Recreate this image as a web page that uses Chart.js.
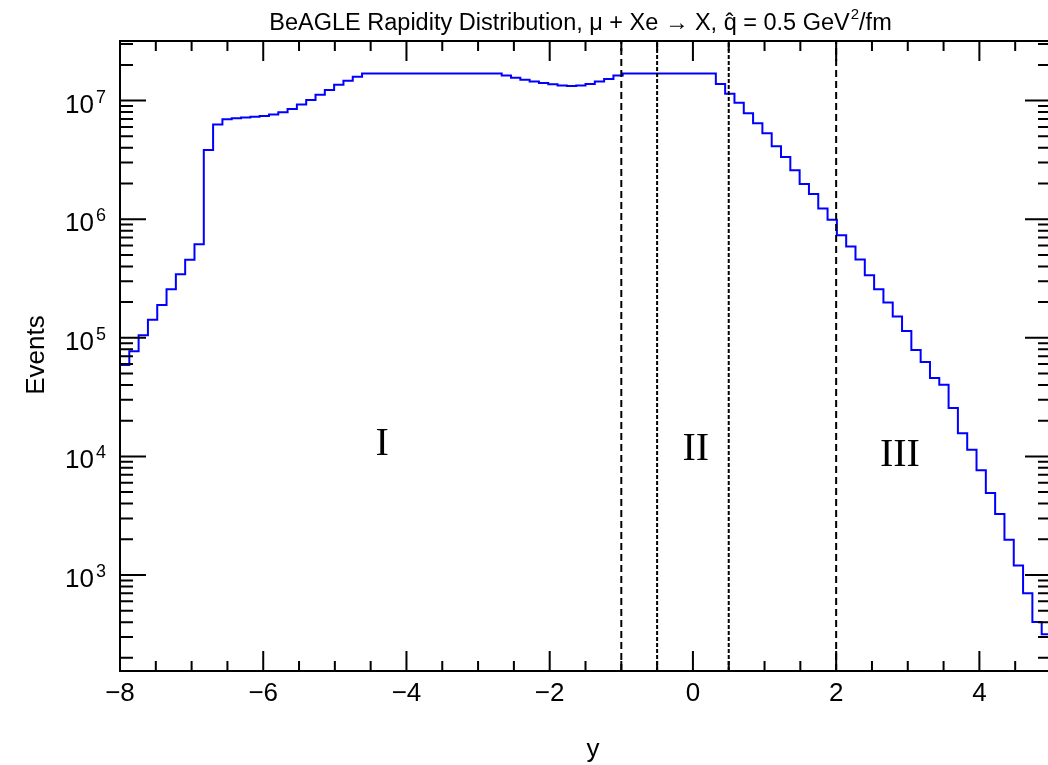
<!DOCTYPE html>
<html>
<head>
<meta charset="utf-8">
<script src="https://cdn.jsdelivr.net/npm/chart.js@4.4.1/dist/chart.umd.min.js"></script>
<style>
    html, body { margin: 0; padding: 0; background: #ffffff; overflow: hidden; }
    #wrap { position: relative; width: 1056px; height: 765px; }
</style>
</head>
<body>
<div id="wrap"><canvas id="rapidity"></canvas></div>
<script>
// === HISTOGRAM BINNING (100 bins from -8 to 5) ===
const BIN_LOW = -8;
const BIN_WIDTH = 0.13;

// === EVENTS PER BIN ===
const binCounts = [
    5.9e4, 7.7e4, 1.05e5, 1.42e5, 1.89e5, 2.57e5, 3.44e5, 4.56e5, 6.15e5, 3.84e6,
    6.3e6, 6.97e6, 7.11e6, 7.19e6, 7.3e6, 7.43e6, 7.62e6, 7.98e6, 8.51e6, 9.25e6,
    1.01e7, 1.12e7, 1.23e7, 1.36e7, 1.47e7, 1.59e7, 1.69e7, 1.69e7, 1.69e7, 1.69e7,
    1.69e7, 1.69e7, 1.69e7, 1.69e7, 1.69e7, 1.69e7, 1.69e7, 1.69e7, 1.69e7, 1.69e7,
    1.69e7, 1.625e7, 1.56e7, 1.50e7, 1.45e7, 1.41e7, 1.37e7, 1.34e7, 1.33e7, 1.34e7,
    1.38e7, 1.45e7, 1.52e7, 1.625e7, 1.69e7, 1.69e7, 1.69e7, 1.69e7, 1.69e7, 1.69e7,
    1.69e7, 1.69e7, 1.69e7, 1.69e7, 1.38e7, 1.14e7, 9.6e6, 7.83e6, 6.45e6, 5.31e6,
    4.12e6, 3.35e6, 2.59e6, 1.98e6, 1.63e6, 1.23e6, 9.9e5, 7.33e5, 5.87e5, 4.57e5,
    3.37e5, 2.57e5, 1.98e5, 1.51e5, 1.14e5, 7.9e4, 6.25e4, 4.59e4, 4.01e4, 2.56e4,
    1.57e4, 1.14e4, 7.65e3, 4.9e3, 3.26e3, 1.98e3, 1.2e3, 703, 402, 317
];

// === REGION BOUNDARIES AND LABELS ===
const cutLines = [-1, -0.5, 0.5, 2];
const cutDashes = [[7, 4], [4, 2], [4, 2], [7, 4]];
const regionNames = ["I", "II", "III"];
const regionX = [-4.34, 0.04, 2.89];
const regionY = [1.25e4, 1.15e4, 1.02e4];

// === AXES ===
const X_MIN = -8, X_MAX = 5;
const Y_MIN = 155, Y_MAX = 3.18e7;
const xMajorTicks = [-8, -6, -4, -2, 0, 2, 4];
const yDecades = [3, 4, 5, 6, 7];

const TITLE_PARTS = ["BeAGLE Rapidity Distribution, \u03bc + Xe \u2192 X, q\u0302 = 0.5 GeV", "2", "/fm"];
const SANS = "'Liberation Sans', Arial, sans-serif";
const SERIF = "'Liberation Serif', 'Times New Roman', serif";

// histogram outline: left edge of every bin, plus the right edge of the last one
const histPoints = binCounts.map((c, i) => ({ x: BIN_LOW + BIN_WIDTH * i, y: c }));
histPoints.push({ x: BIN_LOW + BIN_WIDTH * binCounts.length, y: binCounts[binCounts.length - 1] });

const datasets = cutLines.map((xc, i) => ({
    data: [{ x: xc, y: Y_MIN }, { x: xc, y: Y_MAX }],
    borderColor: "#000000",
    borderWidth: 2,
    borderDash: cutDashes[i],
    pointRadius: 0,
    order: 0
}));
datasets.push({
    data: histPoints,
    borderColor: "#0000ff",
    borderWidth: 2,
    stepped: "before",
    pointRadius: 0,
    order: 1
});

// === FRAME, TICKS AND TEXT (ROOT style, ticks pointing inward) ===
const rootFrame = {
    id: "rootFrame",
    afterDraw(chart) {
        const ctx = chart.ctx;
        const a = chart.chartArea;
        const xs = chart.scales.x;
        const ys = chart.scales.y;

        ctx.save();
        ctx.strokeStyle = "#000000";
        ctx.lineWidth = 2;
        ctx.strokeRect(a.left, a.top, a.right - a.left, a.bottom - a.top);

        ctx.beginPath();
        // x ticks, every 0.5
        for (let v = X_MIN; v <= X_MAX + 1e-9; v += 0.5) {
            const px = xs.getPixelForValue(v);
            const len = xMajorTicks.includes(v) ? 20 : 10;
            ctx.moveTo(px, a.bottom); ctx.lineTo(px, a.bottom - len);
            ctx.moveTo(px, a.top); ctx.lineTo(px, a.top + len);
        }
        // y ticks, 1..9 per decade
        for (let d = 2; d <= 7; d++) {
            for (let m = 1; m <= 9; m++) {
                const v = m * Math.pow(10, d);
                if (v < Y_MIN || v > Y_MAX) continue;
                const py = ys.getPixelForValue(v);
                const len = m === 1 ? 26 : 13;
                ctx.moveTo(a.left, py); ctx.lineTo(a.left + len, py);
                ctx.moveTo(a.right, py); ctx.lineTo(a.right - len, py);
            }
        }
        ctx.stroke();

        ctx.fillStyle = "#000000";
        // x tick labels
        ctx.font = "26px " + SANS;
        ctx.textAlign = "center";
        ctx.textBaseline = "alphabetic";
        xMajorTicks.forEach(v => {
            const label = v < 0 ? "\u2212" + Math.abs(v) : String(v);
            ctx.fillText(label, xs.getPixelForValue(v), a.bottom + 30);
        });
        // y tick labels 10^n
        yDecades.forEach(d => {
            const py = ys.getPixelForValue(Math.pow(10, d));
            ctx.font = "26px " + SANS;
            ctx.textAlign = "right";
            ctx.fillText("10", 94, py + 12);
            ctx.font = "18px " + SANS;
            ctx.textAlign = "left";
            ctx.fillText(String(d), 96, py + 2);
        });

        // axis titles
        ctx.font = "26px " + SANS;
        ctx.textAlign = "center";
        ctx.fillText("y", 593, 757);
        ctx.save();
        ctx.translate(44, 355);
        ctx.rotate(-Math.PI / 2);
        ctx.fillText("Events", 0, 0);
        ctx.restore();

        // title, with a raised "2" in GeV^2
        ctx.textAlign = "left";
        ctx.font = "23.5px " + SANS;
        const w0 = ctx.measureText(TITLE_PARTS[0]).width;
        const w2 = ctx.measureText(TITLE_PARTS[2]).width;
        ctx.font = "15px " + SANS;
        const w1 = ctx.measureText(TITLE_PARTS[1]).width;
        let tx = 580 - (w0 + w1 + w2) / 2;
        ctx.font = "23.5px " + SANS;
        ctx.fillText(TITLE_PARTS[0], tx, 30);
        ctx.font = "15px " + SANS;
        ctx.fillText(TITLE_PARTS[1], tx + w0 + 1, 19);
        ctx.font = "23.5px " + SANS;
        ctx.fillText(TITLE_PARTS[2], tx + w0 + w1 + 1, 30);

        // region names
        ctx.textAlign = "center";
        ctx.font = "40px " + SERIF;
        ctx.textBaseline = "middle";
        regionNames.forEach((name, i) => {
            ctx.fillText(name, xs.getPixelForValue(regionX[i]), ys.getPixelForValue(regionY[i]));
        });
        ctx.restore();
    }
};

new Chart(document.getElementById("rapidity"), {
    type: "line",
    data: { datasets: datasets },
    options: {
        responsive: true,
        maintainAspectRatio: false,
        animation: false,
        layout: { padding: { left: 120, right: 5, top: 41, bottom: 94 } },
        plugins: { legend: { display: false }, tooltip: { enabled: false } },
        scales: {
            x: { type: "linear", min: X_MIN, max: X_MAX, display: false },
            y: { type: "logarithmic", min: Y_MIN, max: Y_MAX, display: false }
        }
    },
    plugins: [rootFrame]
});
</script>
</body>
</html>
